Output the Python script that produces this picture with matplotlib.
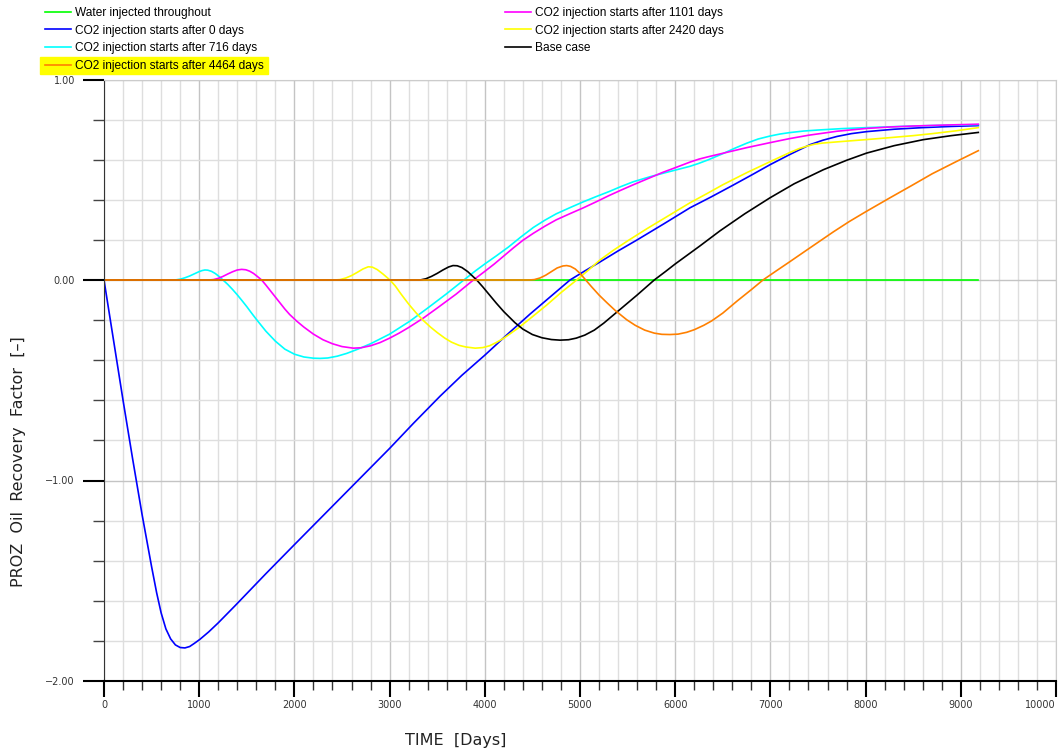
import matplotlib
matplotlib.use('Agg')
import matplotlib.pyplot as plt
import matplotlib.ticker as mtick
from matplotlib.patches import Rectangle

# PROZ oil recovery factor (difference to water flood) per injection schedule
water_days = [0, 9184]
water_rf = [0.0, 0.0]

co2_0_days = [0, 100, 200, 300, 400, 450, 500, 553, 600, 650, 700, 750, 800, 850, 900, 950, 1008,
              1100, 1200, 1376, 1700, 2000, 2500, 3000, 3250, 3529, 3760, 4000, 4240, 4475, 4895,
              5050, 5210, 5400, 5600, 5880, 6155, 6380, 6600, 6800, 6996, 7200, 7416, 7550, 7700,
              7850, 8011, 8300, 8600, 8900, 9184]
co2_0_rf = [0.0, -0.3, -0.6, -0.89, -1.17, -1.3, -1.43, -1.56, -1.66, -1.74, -1.79, -1.82, -1.833,
            -1.835, -1.828, -1.812, -1.792, -1.755, -1.71, -1.625, -1.465, -1.32, -1.08, -0.84,
            -0.715, -0.58, -0.475, -0.375, -0.27, -0.17, 0.0, 0.045, 0.09, 0.145, 0.2, 0.28, 0.36,
            0.415, 0.471, 0.523, 0.575, 0.625, 0.675, 0.697, 0.716, 0.73, 0.74, 0.752, 0.76, 0.766,
            0.77]

co2_716_days = [0, 716, 760, 800, 850, 900, 950, 1000, 1030, 1060, 1090, 1130, 1170, 1210, 1250,
                1300, 1350, 1400, 1450, 1500, 1550, 1600, 1700, 1800, 1900, 2000, 2100, 2200, 2270,
                2350, 2450, 2550, 2650, 2800, 3000, 3214, 3400, 3600, 3780, 3900, 4000, 4120, 4250,
                4380, 4510, 4630, 4750, 4900, 5035, 5170, 5300, 5430, 5560, 5735, 5870, 6000, 6155,
                6250, 6350, 6500, 6620, 6750, 6870, 6996, 7100, 7200, 7350, 7500, 7750, 8011, 8250,
                8500, 8850, 9184]
co2_716_rf = [0.0, 0.0, 0.001, 0.004, 0.011, 0.02, 0.031, 0.042, 0.047, 0.05, 0.049, 0.043, 0.032,
              0.017, 0.0, -0.022, -0.047, -0.074, -0.103, -0.133, -0.165, -0.196, -0.255, -0.305,
              -0.345, -0.37, -0.384, -0.39, -0.391, -0.389, -0.38, -0.366, -0.348, -0.318, -0.27,
              -0.205, -0.14, -0.068, 0.0, 0.045, 0.08, 0.12, 0.165, 0.215, 0.262, 0.298, 0.33,
              0.362, 0.39, 0.416, 0.44, 0.466, 0.49, 0.515, 0.532, 0.548, 0.567, 0.582, 0.6, 0.63,
              0.656, 0.682, 0.703, 0.718, 0.728, 0.735, 0.743, 0.748, 0.755, 0.76, 0.764, 0.768,
              0.772, 0.775]

co2_1101_days = [0, 1101, 1150, 1200, 1250, 1300, 1350, 1400, 1446, 1490, 1530, 1570, 1610, 1656,
                 1700, 1750, 1800, 1850, 1900, 1950, 2024, 2100, 2200, 2300, 2400, 2500, 2619, 2700,
                 2800, 2900, 3000, 3100, 3200, 3354, 3500, 3700, 3880, 4000, 4100, 4200, 4300, 4400,
                 4510, 4630, 4750, 4900, 5035, 5170, 5300, 5430, 5560, 5735, 5870, 6000, 6155, 6250,
                 6350, 6500, 6750, 6996, 7200, 7400, 7700, 8011, 8250, 8500, 8850, 9184]
co2_1101_rf = [0.0, 0.0, 0.002, 0.008, 0.018, 0.03, 0.041, 0.05, 0.053, 0.051, 0.044, 0.033, 0.018,
               0.0, -0.025, -0.055, -0.085, -0.115, -0.145, -0.172, -0.205, -0.235, -0.27, -0.298,
               -0.318, -0.332, -0.34, -0.338, -0.328, -0.312, -0.29, -0.265, -0.237, -0.19, -0.14,
               -0.07, 0.0, 0.043, 0.08, 0.12, 0.16, 0.198, 0.233, 0.268, 0.3, 0.332, 0.36, 0.39,
               0.42, 0.448, 0.475, 0.51, 0.537, 0.56, 0.588, 0.603, 0.615, 0.632, 0.66, 0.685,
               0.705, 0.722, 0.742, 0.756, 0.763, 0.768, 0.773, 0.777]

co2_2420_days = [0, 2420, 2480, 2540, 2600, 2660, 2720, 2776, 2820, 2870, 2930, 3004, 3060, 3120,
                 3200, 3280, 3350, 3430, 3500, 3580, 3650, 3730, 3800, 3900, 3980, 4050, 4120, 4200,
                 4350, 4500, 4650, 4800, 4965, 5090, 5210, 5350, 5500, 5700, 5910, 6155, 6330, 6500,
                 6750, 6996, 7100, 7200, 7300, 7380, 7460, 7550, 7730, 8000, 8255, 8500, 8700, 8950,
                 9184]
co2_2420_rf = [0.0, 0.0, 0.002, 0.01, 0.022, 0.038, 0.055, 0.066, 0.064, 0.052, 0.03, 0.0, -0.03,
               -0.07, -0.12, -0.165, -0.2, -0.235, -0.262, -0.29, -0.31, -0.326, -0.334, -0.34,
               -0.337, -0.328, -0.312, -0.29, -0.24, -0.183, -0.125, -0.063, 0.0, 0.05, 0.1, 0.148,
               0.195, 0.255, 0.315, 0.385, 0.43, 0.475, 0.535, 0.59, 0.613, 0.635, 0.655, 0.667,
               0.677, 0.683, 0.69, 0.7, 0.71, 0.72, 0.73, 0.744, 0.76]

base_days = [0, 3320, 3380, 3440, 3500, 3560, 3620, 3666, 3710, 3760, 3820, 3870, 3915, 3980, 4050,
             4120, 4200, 4317, 4400, 4500, 4600, 4700, 4790, 4880, 4960, 5050, 5150, 5250, 5400,
             5600, 5780, 5900, 6000, 6130, 6260, 6470, 6730, 6996, 7250, 7556, 7800, 8011, 8300,
             8606, 8900, 9184]
base_rf = [0.0, 0.0, 0.006, 0.018, 0.033, 0.05, 0.065, 0.072, 0.071, 0.062, 0.042, 0.02, 0.0, -0.035,
           -0.075, -0.115, -0.158, -0.213, -0.245, -0.272, -0.288, -0.297, -0.3, -0.298, -0.29,
           -0.275, -0.25, -0.215, -0.155, -0.075, 0.0, 0.043, 0.08, 0.125, 0.17, 0.245, 0.33, 0.41,
           0.48, 0.55, 0.597, 0.633, 0.67, 0.7, 0.72, 0.736]

co2_4464_days = [0, 4464, 4520, 4580, 4640, 4700, 4760, 4820, 4860, 4900, 4950, 5000, 5060, 5120,
                 5200, 5280, 5370, 5490, 5580, 5680, 5780, 5860, 5945, 6030, 6120, 6200, 6300, 6383,
                 6500, 6650, 6800, 6922, 7060, 7200, 7430, 7661, 7830, 8000, 8256, 8480, 8700, 8950,
                 9184]
co2_4464_rf = [0.0, 0.0, 0.002, 0.01, 0.024, 0.042, 0.06, 0.07, 0.072, 0.068, 0.055, 0.033, 0.0,
               -0.033, -0.075, -0.112, -0.152, -0.198, -0.226, -0.25, -0.265, -0.271, -0.272, -0.27,
               -0.261, -0.248, -0.226, -0.204, -0.165, -0.105, -0.048, 0.0, 0.045, 0.09, 0.165, 0.24,
               0.292, 0.34, 0.41, 0.47, 0.53, 0.59, 0.645]

FIG_W, FIG_H = 1058, 751


def rf_label(value, pos):
    return f'{value:.2f}'.replace('-', '\u2212')


def render():
    fig = plt.figure(figsize=(FIG_W / 100, FIG_H / 100), dpi=100)
    ax = fig.add_axes([104 / FIG_W, 70 / FIG_H, 952 / FIG_W, 601.5 / FIG_H])

    series = {
        'water': (water_days, water_rf, '#00ff00', 'Water injected throughout'),
        '0': (co2_0_days, co2_0_rf, '#0000ff', 'CO2 injection starts after 0 days'),
        '716': (co2_716_days, co2_716_rf, '#00ffff', 'CO2 injection starts after 716 days'),
        '1101': (co2_1101_days, co2_1101_rf, '#ff00ff', 'CO2 injection starts after 1101 days'),
        '2420': (co2_2420_days, co2_2420_rf, '#ffff00', 'CO2 injection starts after 2420 days'),
        'base': (base_days, base_rf, '#000000', 'Base case'),
        '4464': (co2_4464_days, co2_4464_rf, '#ff8000', 'CO2 injection starts after 4464 days'),
    }
    lines = {}
    for key, (d, rf, color, label) in series.items():
        lines[key], = ax.plot(d, rf, color=color, lw=1.2, label=label, solid_joinstyle='round')

    ax.set_xlim(0, 10000)
    ax.set_ylim(-2, 1)
    ax.set_xticks(range(0, 10001, 1000))
    ax.xaxis.set_minor_locator(mtick.MultipleLocator(200))
    ax.yaxis.set_major_locator(mtick.MultipleLocator(1))
    ax.yaxis.set_minor_locator(mtick.MultipleLocator(0.2))
    ax.yaxis.set_major_formatter(mtick.FuncFormatter(rf_label))
    # keep the last time label inside the figure
    ax.get_xticklabels()[-1].set_horizontalalignment('right')

    ax.grid(which='minor', color='#dedede', lw=1)
    ax.grid(which='major', color='#c4c4c4', lw=1)
    ax.set_axisbelow(True)

    ax.tick_params(axis='both', which='both', direction='out', labelsize=7, labelcolor='#333333')
    ax.tick_params(axis='y', which='major', length=15, width=1.5, color='black', pad=6)
    ax.tick_params(axis='y', which='minor', length=8, width=1, color='#444444')
    ax.tick_params(axis='x', which='major', length=11.5, width=1.5, color='black', pad=2)
    ax.tick_params(axis='x', which='minor', length=6.5, width=1, color='#333333')

    ax.spines['left'].set_color('#333333')
    ax.spines['bottom'].set_color('black')
    ax.spines['bottom'].set_linewidth(1.5)
    for side in ('top', 'right'):
        ax.spines[side].set_color('#cccccc')

    ax.set_xlabel('TIME  [Days]', fontsize=11.5, color='#222222')
    ax.xaxis.set_label_coords(0.369, -0.087)
    ax.set_ylabel('PROZ  Oil  Recovery  Factor  [–]', fontsize=11.5, color='#222222')
    ax.yaxis.set_label_coords(-0.082, 0.364)

    # yellow marker behind the last entry of the first legend column
    fig.add_artist(Rectangle((40 / FIG_W, 1 - 74 / FIG_H), 228 / FIG_W, 17 / FIG_H,
                             transform=fig.transFigure, color='#ffff00', zorder=1))

    legend_kw = dict(loc='upper left', frameon=False, prop={'family': 'Liberation Sans', 'size': 8.6},
                     handlelength=2.2, handletextpad=0.35, labelspacing=0.47, borderpad=0,
                     borderaxespad=0)
    col1 = [lines[k] for k in ('water', '0', '716', '4464')]
    col2 = [lines[k] for k in ('1101', '2420', 'base')]
    fig.legend(handles=col1, bbox_to_anchor=(45 / FIG_W, 1 - 7 / FIG_H), **legend_kw)
    fig.legend(handles=col2, bbox_to_anchor=(505 / FIG_W, 1 - 7 / FIG_H), **legend_kw)

    fig.savefig('out.png', dpi=100)


def main():
    render()


if __name__ == '__main__':
    main()
